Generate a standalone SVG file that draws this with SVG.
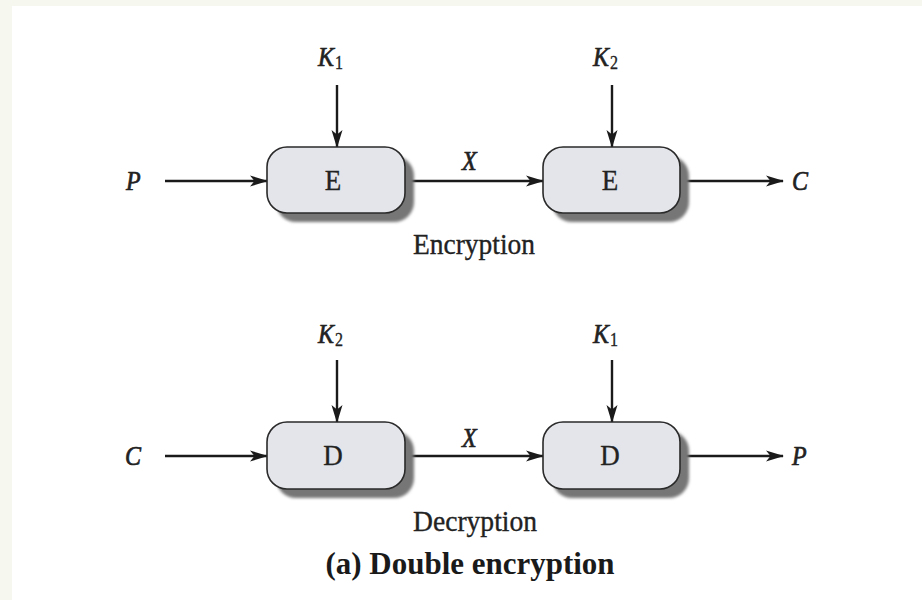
<svg xmlns="http://www.w3.org/2000/svg" width="922" height="600" viewBox="0 0 922 600">
  <defs>
    <marker id="arrow" viewBox="0 0 18 12" refX="17" refY="6" markerWidth="18" markerHeight="12" markerUnits="userSpaceOnUse" orient="auto">
      <path d="M0,0.5 L18,6 L0,11.5 L4.5,6 Z" fill="#1a1a1a"/>
    </marker>
    <filter id="soft" x="-10%" y="-10%" width="130%" height="140%">
      <feGaussianBlur stdDeviation="1.5"/>
    </filter>
  </defs>
  <style>
    .frame { fill: #f6f7ef; }
    .page { fill: #ffffff; }
    .shadow { fill: #767676; filter: url(#soft); }
    .box { fill: #e3e5ea; stroke: #2a2a2a; stroke-width: 1.6; }
    .edge { fill: none; stroke: #1a1a1a; stroke-width: 2.4; marker-end: url(#arrow); }
    text { font-family: "Liberation Serif", "Times New Roman", serif; fill: #222; }
    .op { font-size: 27px; text-anchor: middle; stroke: #222; stroke-width: 0.3; }
    .var { font-style: italic; font-size: 24px; stroke: #222; stroke-width: 0.6; }
    .sub { font-size: 16px; font-style: normal; stroke-width: 0.3; }
    .cap { font-size: 25px; text-anchor: middle; stroke: #222; stroke-width: 0.3; }
    .title { font-size: 28px; font-weight: bold; fill: #1a1a1a; text-anchor: middle; }
  </style>

  <!-- page background -->
  <rect class="frame" x="0" y="0" width="922" height="600"/>
  <rect class="page" x="12" y="6" width="910" height="594"/>

  <!-- connectors -->
  <g id="connectors">
    <!-- encryption row -->
    <line class="edge" x1="337" y1="85" x2="337" y2="147"/>
    <line class="edge" x1="612" y1="85" x2="612" y2="147"/>
    <line class="edge" x1="165" y1="181" x2="267" y2="181"/>
    <line class="edge" x1="405" y1="181" x2="543" y2="181"/>
    <line class="edge" x1="680" y1="181" x2="783" y2="181"/>
    <!-- decryption row -->
    <line class="edge" x1="337" y1="360" x2="337" y2="422"/>
    <line class="edge" x1="612" y1="360" x2="612" y2="422"/>
    <line class="edge" x1="165" y1="456" x2="267" y2="456"/>
    <line class="edge" x1="405" y1="456" x2="543" y2="456"/>
    <line class="edge" x1="680" y1="456" x2="783" y2="456"/>
  </g>

  <!-- encryption stages -->
  <g id="enc1">
    <rect class="shadow" x="276" y="156" width="138" height="66" rx="20"/>
    <rect class="box" x="267" y="147" width="138" height="66" rx="20"/>
    <text class="op" transform="translate(333 190) scale(1 1.1)">E</text>
  </g>
  <g id="enc2">
    <rect class="shadow" x="552" y="156" width="137" height="66" rx="20"/>
    <rect class="box" x="543" y="147" width="137" height="66" rx="20"/>
    <text class="op" transform="translate(610 190) scale(1 1.1)">E</text>
  </g>

  <!-- decryption stages -->
  <g id="dec1">
    <rect class="shadow" x="276" y="431" width="138" height="67" rx="20"/>
    <rect class="box" x="267" y="422" width="138" height="67" rx="20"/>
    <text class="op" transform="translate(333 465) scale(1 1.1)">D</text>
  </g>
  <g id="dec2">
    <rect class="shadow" x="552" y="431" width="137" height="67" rx="20"/>
    <rect class="box" x="543" y="422" width="137" height="67" rx="20"/>
    <text class="op" transform="translate(610 465) scale(1 1.1)">D</text>
  </g>

  <!-- labels: encryption row -->
  <g id="labels-enc">
    <text class="var" transform="translate(318 66) scale(1 1.15)">K<tspan class="sub" dx="1" dy="3">1</tspan></text>
    <text class="var" transform="translate(593 66) scale(1 1.15)">K<tspan class="sub" dx="1" dy="3">2</tspan></text>
    <text class="var" transform="translate(126 190) scale(1 1.15)">P</text>
    <text class="var" transform="translate(462 170) scale(1 1.15)">X</text>
    <text class="var" transform="translate(792 190) scale(1 1.15)">C</text>
    <text class="cap" transform="translate(474 254) scale(1 1.15)" textLength="122" lengthAdjust="spacingAndGlyphs">Encryption</text>
  </g>

  <!-- labels: decryption row -->
  <g id="labels-dec">
    <text class="var" transform="translate(318 343) scale(1 1.15)">K<tspan class="sub" dx="1" dy="3">2</tspan></text>
    <text class="var" transform="translate(593 343) scale(1 1.15)">K<tspan class="sub" dx="1" dy="3">1</tspan></text>
    <text class="var" transform="translate(125 465) scale(1 1.15)">C</text>
    <text class="var" transform="translate(462 447) scale(1 1.15)">X</text>
    <text class="var" transform="translate(792 465) scale(1 1.15)">P</text>
    <text class="cap" transform="translate(475 531) scale(1 1.15)" textLength="124" lengthAdjust="spacingAndGlyphs">Decryption</text>
  </g>

  <text class="title" transform="translate(470 574) scale(1 1.12)" textLength="289" lengthAdjust="spacingAndGlyphs">(a) Double encryption</text>
</svg>
